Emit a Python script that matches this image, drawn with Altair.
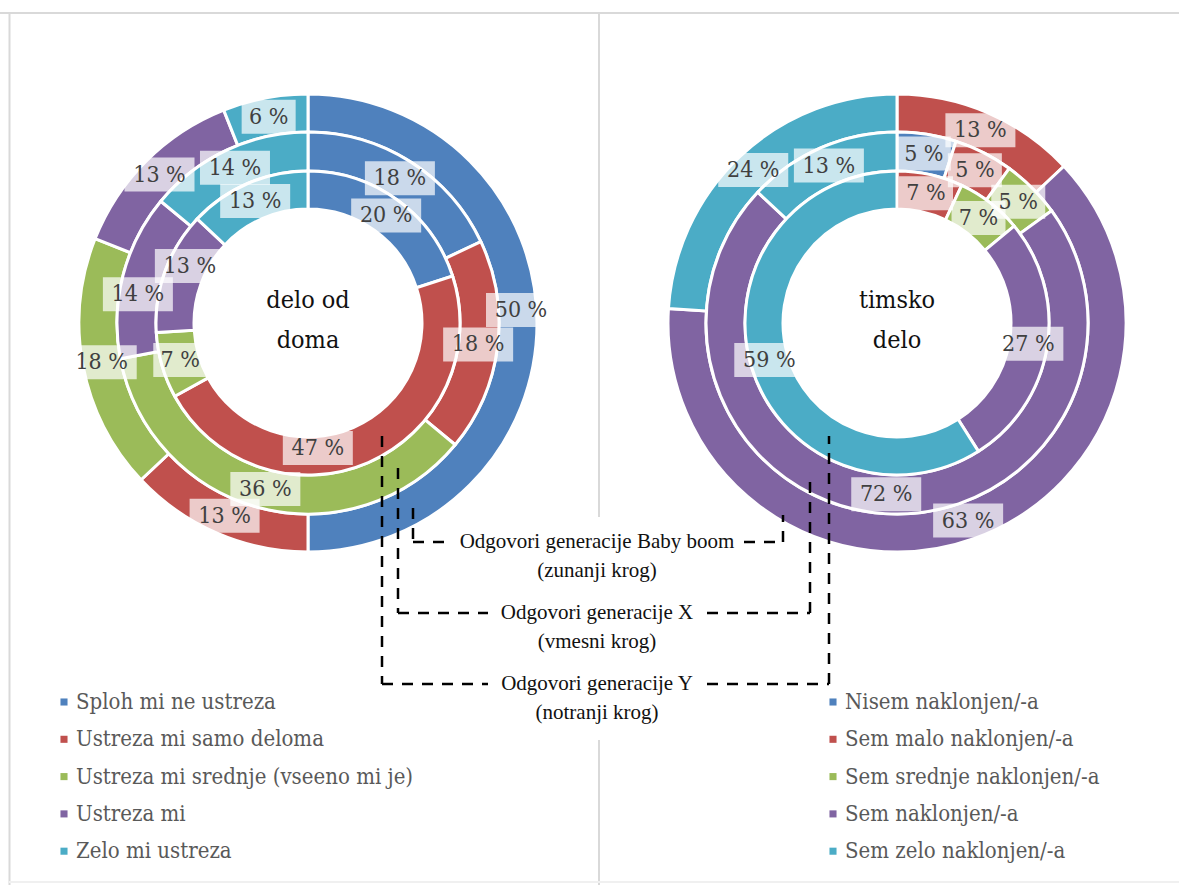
import math
import altair as alt
import pandas as pd

# ---------------------------------------------------------------- values (%)
home_categories = [
    "Sploh mi ne ustreza",
    "Ustreza mi samo deloma",
    "Ustreza mi srednje (vseeno mi je)",
    "Ustreza mi",
    "Zelo mi ustreza",
]
team_categories = [
    "Nisem naklonjen/-a",
    "Sem malo naklonjen/-a",
    "Sem srednje naklonjen/-a",
    "Sem naklonjen/-a",
    "Sem zelo naklonjen/-a",
]

# delo od doma
home_babyboom = [50, 13, 18, 13, 6]   # outer ring
home_gen_x = [18, 18, 36, 14, 14]     # middle ring
home_gen_y = [20, 47, 7, 13, 13]      # inner ring

# timsko delo
team_babyboom = [0, 13, 0, 63, 24]
team_gen_x = [5, 5, 5, 72, 13]
team_gen_y = [0, 7, 7, 27, 59]

palette = ["#4F81BD", "#C0504D", "#9BBB59", "#8064A2", "#4BACC6"]

center_titles = {"home": ["delo od", "doma"], "team": ["timsko", "delo"]}
generation_notes = [
    ("Odgovori generacije Baby boom", "(zunanji krog)"),
    ("Odgovori generacije X", "(vmesni krog)"),
    ("Odgovori generacije Y", "(notranji krog)"),
]

# ---------------------------------------------------------------- layout
W, H = 1179, 885
CENTERS = {"home": (308, 323), "team": (897, 323)}
RINGS = {"inner": (114, 152), "middle": (152, 191), "outer": (191, 229)}
LEGEND_X = {"home": 64, "team": 833}
LEGEND_Y0, LEGEND_DY = 702, 37.3
FONT = "'DejaVu Serif Condensed', 'DejaVu Serif'"
NOTE_FONT = "Liberation Serif"
# hand-placed data labels (pixel offsets from the slice centre)
LABEL_NUDGE = {
    ("home", "outer", 0): (3, -13),
    ("home", "inner", 1): (-43, 3),
    ("home", "middle", 3): (-4, 14),
    ("home", "inner", 3): (7, -12),
}

xs = alt.Scale(domain=[0, W], range=[0, W], nice=False, zero=False)
ys = alt.Scale(domain=[0, H], range=[0, H], nice=False, zero=False)


def X(f):
    return alt.X(f, type="quantitative", scale=xs, axis=None)


def Y(f):
    return alt.Y(f, type="quantitative", scale=ys, axis=None)


# ---------------------------------------------------------------- ring table
series = {
    ("home", "outer"): home_babyboom,
    ("home", "middle"): home_gen_x,
    ("home", "inner"): home_gen_y,
    ("team", "outer"): team_babyboom,
    ("team", "middle"): team_gen_x,
    ("team", "inner"): team_gen_y,
}
rows = []
for (chart, ring), values in series.items():
    cx, cy = CENTERS[chart]
    r_in, r_out = RINGS[ring]
    for i, v in enumerate(values):
        dx, dy = LABEL_NUDGE.get((chart, ring, i), (0, 0))
        rows.append(dict(chart=chart, ring=ring, idx=i, value=v, color=palette[i],
                         cx=cx, cy=cy, r_in=r_in, r_out=r_out, dx=dx, dy=dy))
ring_df = pd.DataFrame(rows)

slices = (
    alt.Chart(ring_df)
    .transform_filter("datum.value > 0")
    .transform_window(cum="sum(value)", groupby=["chart", "ring"],
                      sort=[alt.SortField("idx")], frame=[None, 0])
    .transform_calculate(start="datum.cum - datum.value",
                         mid="datum.cum - datum.value / 2",
                         lr="(datum.r_in + datum.r_out) / 2",
                         label="datum.value + ' %'")
    .transform_calculate(ang="datum.mid / 100 * 2 * PI")
    .transform_calculate(lx="datum.cx + datum.lr * sin(datum.ang) + datum.dx",
                         ly="datum.cy - datum.lr * cos(datum.ang) + datum.dy",
                         bw="16 * length(datum.label) + 6")
    .transform_calculate(bx0="datum.lx - datum.bw / 2", bx1="datum.lx + datum.bw / 2",
                         by0="datum.ly - 17", by1="datum.ly + 17")
)

arcs = slices.mark_arc(stroke="white", strokeWidth=3).encode(
    x=X("cx"),
    y=Y("cy"),
    theta=alt.Theta("start:Q", stack=None,
                    scale=alt.Scale(domain=[0, 100], range=[0, 2 * math.pi])),
    theta2="cum:Q",
    radius=alt.Radius("r_out:Q", scale=alt.Scale(type="linear", domain=[0, 229],
                                                  range=[0, 229], zero=True)),
    radius2="r_in:Q",
    color=alt.Color("color:N", scale=None, legend=None),
)

label_boxes = slices.mark_rect(fill="white", opacity=0.7).encode(
    x=X("bx0"), x2="bx1", y=Y("by0"), y2="by1"
)
label_text = slices.mark_text(font=FONT, fontSize=23, color="#404040",
                              align="center", baseline="middle").encode(
    x=X("lx"), y=Y("ly"), text="label:N"
)

# ---------------------------------------------------------------- centre titles
title_rows = []
for chart, lines in center_titles.items():
    cx, cy = CENTERS[chart]
    for k, line in enumerate(lines):
        title_rows.append(dict(text=line, x=cx, y=cy - 23 + 40 * k))
titles = alt.Chart(pd.DataFrame(title_rows)).mark_text(
    font=FONT, fontSize=25, color="#111111", align="center", baseline="middle"
).encode(x=X("x"), y=Y("y"), text="text:N")

# ---------------------------------------------------------------- legends
leg_rows = []
for chart, cats in (("home", home_categories), ("team", team_categories)):
    for i, name in enumerate(cats):
        leg_rows.append(dict(name=name, color=palette[i], x=LEGEND_X[chart],
                             tx=LEGEND_X[chart] + 12, y=LEGEND_Y0 + i * LEGEND_DY))
leg_df = pd.DataFrame(leg_rows)
leg_marks = alt.Chart(leg_df).mark_square(size=50, opacity=1).encode(
    x=X("x"), y=Y("y"), color=alt.Color("color:N", scale=None, legend=None)
)
leg_text = alt.Chart(leg_df).mark_text(
    font=FONT, fontSize=22, color="#595959", align="left", baseline="middle"
).encode(x=X("tx"), y=Y("y"), text="name:N")

# ---------------------------------------------------------------- frame
frame_df = pd.DataFrame([
    dict(x=0, x2=W, y=13, y2=13, c="#d9d9d9"),
    dict(x=9.5, x2=9.5, y=13, y2=H, c="#d9d9d9"),
    dict(x=599, x2=599, y=13, y2=517, c="#d9d9d9"),
    dict(x=599, x2=599, y=740, y2=H, c="#d9d9d9"),
    dict(x=9, x2=W, y=882, y2=882, c="#f0f0f0"),
])
frame = alt.Chart(frame_df).mark_rule(strokeWidth=2).encode(
    x=X("x"), x2="x2", y=Y("y"), y2="y2", color=alt.Color("c:N", scale=None, legend=None)
)

# ---------------------------------------------------------------- generation notes
note_rows = []
note_y = [542, 613, 684]
for (head, sub), yy in zip(generation_notes, note_y):
    note_rows.append(dict(text=head, x=597, y=yy))
    note_rows.append(dict(text=sub, x=597, y=yy + 29))
notes = alt.Chart(pd.DataFrame(note_rows)).mark_text(
    font=NOTE_FONT, fontSize=21, color="#111111", align="center", baseline="middle"
).encode(x=X("x"), y=Y("y"), text="text:N")

brackets = pd.DataFrame([
    # Baby boom -> outer rings
    dict(x=413, y=508, x2=413, y2=542), dict(x=413, y=542, x2=452, y2=542),
    dict(x=744, y=542, x2=783, y2=542), dict(x=783, y=542, x2=783, y2=515),
    # X -> middle rings
    dict(x=398, y=468, x2=398, y2=613), dict(x=398, y=613, x2=488, y2=613),
    dict(x=707, y=613, x2=810, y2=613), dict(x=810, y=613, x2=810, y2=478),
    # Y -> inner rings
    dict(x=382, y=436, x2=382, y2=684), dict(x=382, y=684, x2=488, y2=684),
    dict(x=707, y=684, x2=829, y2=684), dict(x=829, y=684, x2=829, y2=436),
])
dashes = alt.Chart(brackets).mark_rule(
    color="black", strokeWidth=2.5, strokeDash=[11, 9]
).encode(x=X("x"), x2="x2", y=Y("y"), y2="y2")

chart = alt.layer(
    frame, arcs, label_boxes, label_text, titles, leg_marks, leg_text, dashes, notes
).properties(
    width=W, height=H, autosize=alt.AutoSizeParams(type="none"), padding=0,
    background="white",
).configure_view(stroke=None)

chart.save("out.html", embed_options={"renderer": "svg", "actions": False})
